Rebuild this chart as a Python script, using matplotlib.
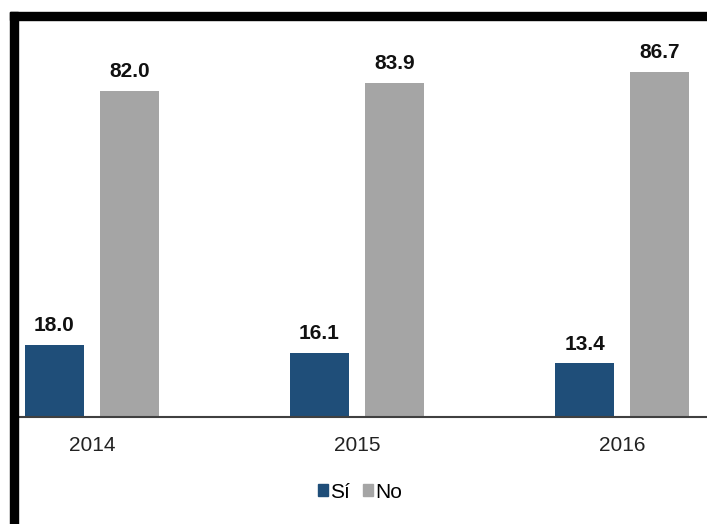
import numpy as np
import matplotlib
matplotlib.use("Agg")
import matplotlib.pyplot as plt
from matplotlib.patches import Rectangle, Patch

plt.rcParams['font.family'] = ['Liberation Sans', 'DejaVu Sans']

years = ["2014", "2015", "2016"]
si_vals = [18.0, 16.1, 13.4]
no_vals = [82.0, 83.9, 86.7]

c_si = "#1F4E79"
c_no = "#A5A5A5"

W, H = 707, 524
fig = plt.figure(figsize=(W / 100, H / 100), dpi=100)
ax = fig.add_axes([18 / W, (H - 416.7) / H, 1 - 18 / W, (416.7 - 19.1) / H])

x = np.arange(len(years))
off = 37.5 / 265
bw = 59 / 265
ax.bar(x - off, si_vals, width=bw, color=c_si, zorder=2)
ax.bar(x + off, no_vals, width=bw, color=c_no, zorder=2)

for xi, s, n in zip(x, si_vals, no_vals):
    ax.text(xi - off, s + 3.5, f"{s:.1f}", ha="center", va="baseline",
            fontsize=15, fontweight="bold", color="#111111")
    ax.text(xi + off, n + 3.5, f"{n:.1f}", ha="center", va="baseline",
            fontsize=15, fontweight="bold", color="#111111")

ax.set_xlim(-74 / 265, (W - 92) / 265)
ax.set_ylim(0, 100)
ax.set_xticks(x)
ax.set_xticklabels(years, fontsize=15, color="#222222")
ax.tick_params(axis="x", length=0, pad=14)
ax.set_yticks([])
for side in ["top", "right", "left"]:
    ax.spines[side].set_visible(False)
ax.spines["bottom"].set_color("#404040")
ax.spines["bottom"].set_linewidth(1.5)

# heavy black frame along top and left edge
fig.patches.append(Rectangle((10 / W, (H - 20) / H), 1 - 10 / W, 8 / H,
                             transform=fig.transFigure, color="black", zorder=5))
fig.patches.append(Rectangle((10 / W, 0), 8 / W, (H - 12) / H,
                             transform=fig.transFigure, color="black", zorder=5))

handles = [Patch(color=c_si, label="Sí"), Patch(color=c_no, label="No")]
fig.legend(handles=handles, loc="center", bbox_to_anchor=(360 / W, (H - 492) / H),
           ncol=2, frameon=False, fontsize=15, handlelength=0.5, handleheight=0.5,
           handletextpad=0.1, columnspacing=0.6)

fig.savefig("out.png", dpi=100)
